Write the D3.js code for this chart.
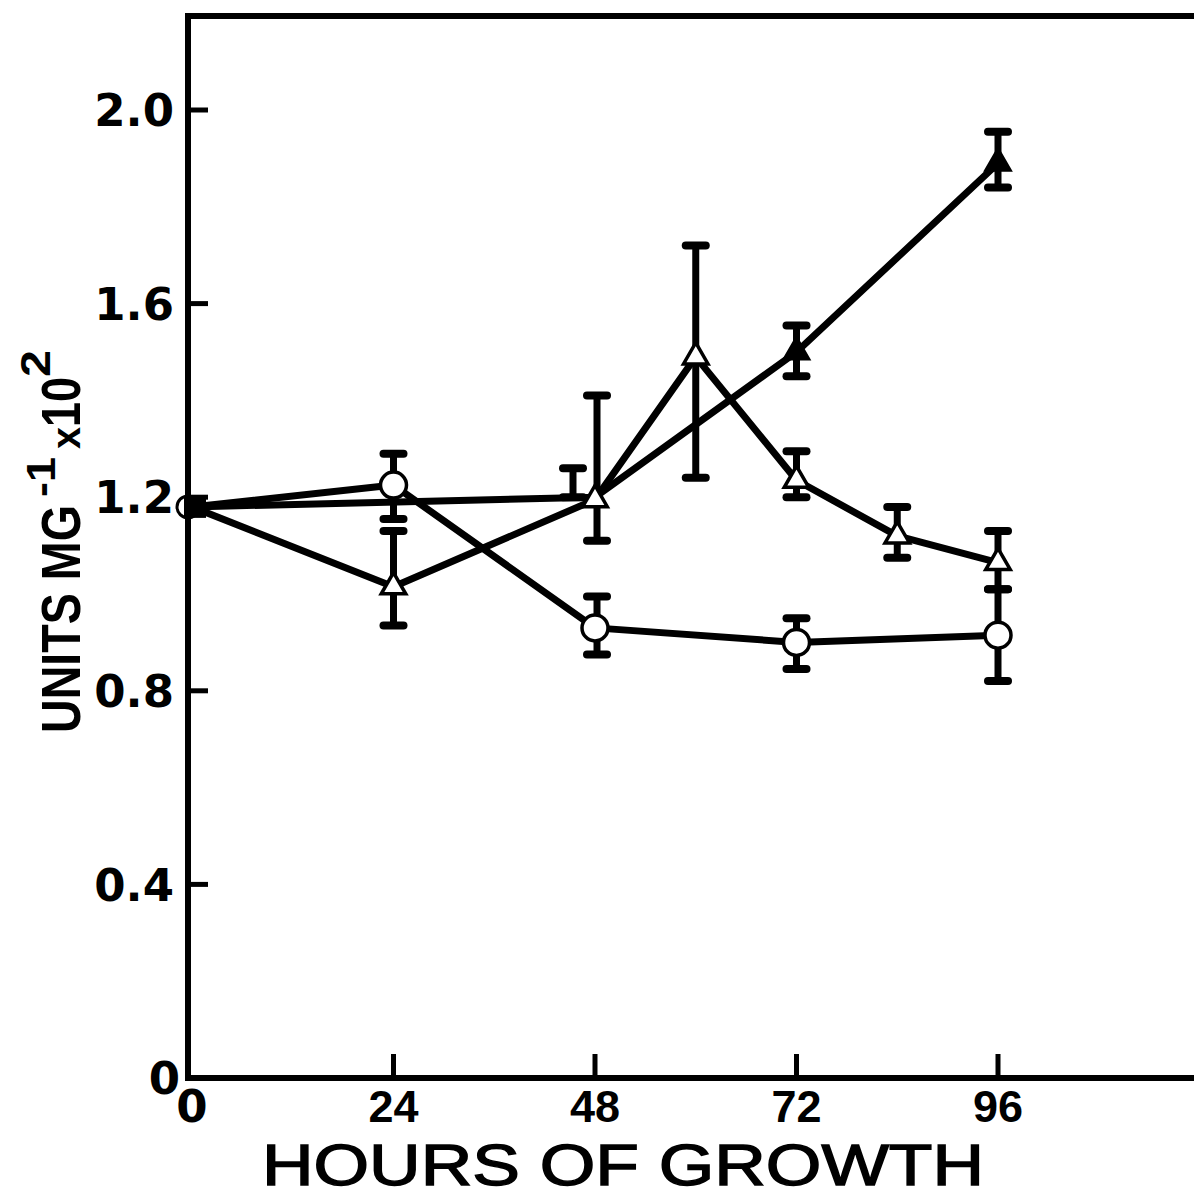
<!DOCTYPE html>
<html>
<head>
<meta charset="utf-8">
<script src="https://cdn.jsdelivr.net/npm/d3@7"></script>
<style>
  html, body { margin: 0; padding: 0; background: #fff; }
  svg { display: block; }
</style>
</head>
<body>
<div id="chart"></div>
<script>
// hours of growth
const xTicks = [0, 24, 48, 72, 96];
const yTicks = [0, 0.4, 0.8, 1.2, 1.6, 2.0];
const yTickLabels = ["0", "0.4", "0.8", "1.2", "1.6", "2.0"];

// open circles
const circleHours = [0, 24, 48, 72, 96];
const circleVals  = [1.18, 1.225, 0.93, 0.90, 0.915];
const circleLo    = [null, 1.155, 0.875, 0.845, 0.82];
const circleHi    = [null, 1.29, 0.995, 0.95, 1.01];

// open triangles
const openTriHours = [0, 24, 48, 60, 72, 84, 96];
const openTriVals  = [1.18, 1.015, 1.195, 1.49, 1.235, 1.12, 1.065];
const openTriLo    = [null, 0.935, 1.11, 1.24, 1.20, 1.075, 1.01];
const openTriHi    = [null, 1.13, 1.41, 1.72, 1.295, 1.18, 1.13];

// filled triangles
const fillTriHours = [0, 48, 72, 96];
const fillTriVals  = [1.18, 1.20, 1.50, 1.89];
const fillTriLo    = [null, 1.20, 1.45, 1.84];
const fillTriHi    = [null, 1.26, 1.555, 1.955];

const W = 1194, H = 1197;
const svg = d3.select("#chart").append("svg")
  .attr("width", W).attr("height", H);

const x = d3.scaleLinear().domain([0, 96]).range([192, 998]);
const y = d3.scaleLinear().domain([0, 2.0]).range([1078, 110]);

const ink = "#000";

// frame: left, top, bottom (right side runs off the page)
svg.append("path")
  .attr("d", `M${W},16 L188,16 L188,1078 L${W},1078`)
  .attr("fill", "none").attr("stroke", ink).attr("stroke-width", 6);

// y ticks (inward)
svg.append("g").selectAll("line").data(yTicks.filter(d => d > 0)).join("line")
  .attr("x1", 188).attr("x2", 208)
  .attr("y1", d => y(d)).attr("y2", d => y(d))
  .attr("stroke", ink).attr("stroke-width", 5);

svg.append("g").selectAll("text").data(yTicks).join("text")
  .attr("x", (d, i) => i === 0 ? 180 : 174)
  .attr("y", d => y(d))
  .attr("dy", "0.36em")
  .attr("text-anchor", "end")
  .attr("font-family", "DejaVu Sans")
  .attr("font-size", 45)
  .attr("font-weight", "bold")
  .attr("fill", ink)
  .text((d, i) => yTickLabels[i]);

// x ticks (upward)
svg.append("g").selectAll("line").data(xTicks.filter(d => d > 0)).join("line")
  .attr("x1", d => x(d)).attr("x2", d => x(d))
  .attr("y1", 1078).attr("y2", 1054)
  .attr("stroke", ink).attr("stroke-width", 5);

svg.append("g").selectAll("text").data(xTicks).join("text")
  .attr("x", d => x(d))
  .attr("y", 1122)
  .attr("text-anchor", "middle")
  .attr("font-family", d => d === 0 ? "DejaVu Sans" : "Liberation Sans")
  .attr("font-weight", "bold")
  .attr("font-size", 45)
  .attr("fill", ink)
  .text(d => d);

// axis titles
svg.append("text")
  .attr("x", 262).attr("y", 1185)
  .attr("textLength", 722).attr("lengthAdjust", "spacingAndGlyphs")
  .attr("font-family", "Liberation Sans")
  .attr("font-size", 58)
  .attr("fill", ink).attr("stroke", ink).attr("stroke-width", 1.4)
  .text("HOURS OF GROWTH");

const yt = svg.append("text")
  .attr("transform", "translate(80,733) rotate(-90)")
  .attr("font-family", "Liberation Sans")
  .attr("font-weight", "bold")
  .attr("font-size", 55)
  .attr("fill", ink);
yt.append("tspan").attr("x", 0).attr("y", 0)
  .attr("textLength", 228).attr("lengthAdjust", "spacingAndGlyphs").text("UNITS MG");
yt.append("tspan").attr("x", 236).attr("y", -25).attr("font-size", 40)
  .attr("textLength", 40).attr("lengthAdjust", "spacingAndGlyphs").text("-1");
yt.append("tspan").attr("x", 284).attr("y", 0).attr("font-size", 40)
  .attr("textLength", 22).attr("lengthAdjust", "spacingAndGlyphs").text("x");
yt.append("tspan").attr("x", 306).attr("y", 0)
  .attr("textLength", 50).attr("lengthAdjust", "spacingAndGlyphs").text("10");
yt.append("tspan").attr("x", 356).attr("y", -30).attr("font-size", 42)
  .attr("textLength", 27).attr("lengthAdjust", "spacingAndGlyphs").text("2");

// helpers
function pts(hours, vals) { return hours.map((h, i) => ({ h, v: vals[i] })); }
const line = d3.line().x(d => x(d.h)).y(d => y(d.v));

function errorBars(hours, lo, hi, dx) {
  const g = svg.append("g").attr("stroke", ink).attr("stroke-width", 7);
  hours.forEach((h, i) => {
    if (lo[i] == null) return;
    const cx = x(h) + (dx[i] || 0);
    g.append("line").attr("x1", cx).attr("x2", cx).attr("y1", y(lo[i])).attr("y2", y(hi[i]));
    [lo[i], hi[i]].forEach(v => {
      g.append("line").attr("x1", cx - 10).attr("x2", cx + 10)
        .attr("y1", y(v)).attr("y2", y(v)).attr("stroke-width", 8)
        .attr("stroke-linecap", "round");
    });
  });
}

const circleData = pts(circleHours, circleVals);
const openTriData = pts(openTriHours, openTriVals);
const fillTriData = pts(fillTriHours, fillTriVals);

errorBars(circleHours, circleLo, circleHi, [0, 0, 2, 0, 0]);
errorBars(openTriHours, openTriLo, openTriHi, [0, 0, 2, 0, 0, 0, 0]);
errorBars(fillTriHours, fillTriLo, fillTriHi, [0, -22, 0, 0]);

[circleData, openTriData, fillTriData].forEach(d => {
  svg.append("path").datum(d).attr("d", line)
    .attr("fill", "none").attr("stroke", ink).attr("stroke-width", 7)
    .attr("stroke-linejoin", "round");
});

// markers
const tri = d3.symbol().type(d3.symbolTriangle).size(260);

svg.append("g").selectAll("circle").data(circleData.slice(1)).join("circle")
  .attr("cx", d => x(d.h)).attr("cy", d => y(d.v)).attr("r", 13)
  .attr("fill", "#fff").attr("stroke", ink).attr("stroke-width", 3.5);

svg.append("g").selectAll("path").data(openTriData.slice(1)).join("path")
  .attr("d", tri)
  .attr("transform", d => `translate(${x(d.h)},${y(d.v)})`)
  .attr("fill", "#fff").attr("stroke", ink).attr("stroke-width", 3.5);

svg.append("g").selectAll("path").data(fillTriData.slice(2)).join("path")
  .attr("d", tri)
  .attr("transform", d => `translate(${x(d.h)},${y(d.v)})`)
  .attr("fill", ink).attr("stroke", ink).attr("stroke-width", 3);

// shared start point
svg.append("circle").attr("cx", x(0) - 4).attr("cy", y(circleVals[0])).attr("r", 11)
  .attr("fill", "#fff").attr("stroke", ink).attr("stroke-width", 3);
svg.append("rect").attr("x", x(0) - 8).attr("y", y(fillTriVals[0]) - 11)
  .attr("width", 22).attr("height", 22).attr("fill", ink);
</script>
</body>
</html>
